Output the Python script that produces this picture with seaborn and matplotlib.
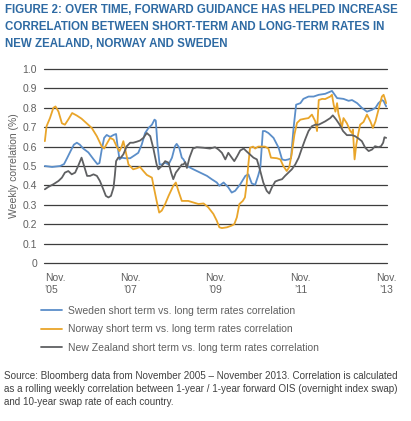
import matplotlib
matplotlib.use("Agg")
import matplotlib.pyplot as plt
from matplotlib import font_manager
import seaborn as sns
import pandas as pd

# decimal years (Nov 2005 = 2005.83) and weekly correlation
sweden_t = [2005.83, 2006.00, 2006.19, 2006.28, 2006.35, 2006.44, 2006.51, 2006.58, 2006.65, 2006.73,
            2006.85, 2006.97, 2007.06, 2007.11, 2007.16, 2007.22, 2007.28, 2007.36, 2007.44, 2007.50,
            2007.53, 2007.58, 2007.63, 2007.71, 2007.83, 2007.94, 2008.02, 2008.10, 2008.18, 2008.26,
            2008.34, 2008.40, 2008.43, 2008.47, 2008.52, 2008.57, 2008.65, 2008.73, 2008.81, 2008.88,
            2008.92, 2008.98, 2009.04, 2009.08, 2009.16, 2009.31, 2009.47, 2009.63, 2009.74, 2009.86,
            2009.92, 2010.02, 2010.13, 2010.21, 2010.29, 2010.41, 2010.53, 2010.60, 2010.68, 2010.76,
            2010.83, 2010.88, 2010.94, 2010.99, 2011.07, 2011.19, 2011.31, 2011.39, 2011.46, 2011.54,
            2011.60, 2011.66, 2011.72, 2011.82, 2011.89, 2012.01, 2012.13, 2012.25, 2012.40, 2012.56,
            2012.68, 2012.83, 2012.95, 2013.03, 2013.15, 2013.26, 2013.38, 2013.50, 2013.58, 2013.65,
            2013.73, 2013.77, 2013.83]
sweden = [0.50, 0.495, 0.50, 0.51, 0.54, 0.58, 0.61, 0.62, 0.61, 0.59,
          0.57, 0.535, 0.51, 0.515, 0.58, 0.645, 0.66, 0.65, 0.66, 0.665,
          0.61, 0.534, 0.543, 0.54, 0.54, 0.556, 0.568, 0.61, 0.67, 0.696,
          0.713, 0.739, 0.734, 0.61, 0.508, 0.508, 0.517, 0.508, 0.543, 0.602,
          0.614, 0.594, 0.543, 0.534, 0.50, 0.483, 0.466, 0.449, 0.432, 0.415,
          0.398, 0.415, 0.39, 0.363, 0.372, 0.406, 0.449, 0.457, 0.41, 0.403,
          0.45, 0.49, 0.68, 0.68, 0.67, 0.645, 0.594, 0.534, 0.53, 0.534,
          0.54, 0.696, 0.816, 0.824, 0.846, 0.858, 0.858, 0.867, 0.872, 0.887,
          0.85, 0.846, 0.836, 0.84, 0.824, 0.80, 0.78, 0.79, 0.80, 0.824,
          0.84, 0.835, 0.807]

norway_t = [2005.83, 2005.87, 2005.95, 2006.03, 2006.08, 2006.15, 2006.23, 2006.30, 2006.38, 2006.47,
            2006.58, 2006.69, 2006.81, 2006.93, 2007.05, 2007.16, 2007.22, 2007.28, 2007.36, 2007.44,
            2007.52, 2007.58, 2007.63, 2007.67, 2007.71, 2007.79, 2007.90, 2007.98, 2008.06, 2008.14,
            2008.22, 2008.34, 2008.37, 2008.45, 2008.51, 2008.57, 2008.65, 2008.73, 2008.84, 2008.90,
            2008.96, 2009.04, 2009.12, 2009.19, 2009.31, 2009.43, 2009.55, 2009.66, 2009.78, 2009.86,
            2009.92, 2009.98, 2010.10, 2010.21, 2010.27, 2010.33, 2010.39, 2010.47, 2010.52, 2010.56,
            2010.60, 2010.64, 2010.71, 2010.76, 2010.83, 2010.99, 2011.07, 2011.13, 2011.27, 2011.35,
            2011.42, 2011.50, 2011.56, 2011.62, 2011.68, 2011.74, 2011.82, 2011.93, 2012.01, 2012.09,
            2012.17, 2012.21, 2012.25, 2012.33, 2012.40, 2012.52, 2012.56, 2012.60, 2012.64, 2012.68,
            2012.71, 2012.75, 2012.79, 2012.83, 2012.91, 2012.99, 2013.03, 2013.05, 2013.09, 2013.13,
            2013.18, 2013.22, 2013.30, 2013.38, 2013.46, 2013.52, 2013.58, 2013.65, 2013.73, 2013.77,
            2013.81, 2013.83]
norway = [0.628, 0.705, 0.747, 0.80, 0.807, 0.78, 0.72, 0.713, 0.74, 0.773,
          0.76, 0.744, 0.72, 0.696, 0.653, 0.602, 0.59, 0.614, 0.645, 0.636,
          0.597, 0.577, 0.60, 0.628, 0.59, 0.508, 0.483, 0.488, 0.495, 0.474,
          0.454, 0.44, 0.406, 0.32, 0.26, 0.27, 0.304, 0.346, 0.398, 0.415,
          0.372, 0.32, 0.32, 0.32, 0.312, 0.304, 0.307, 0.287, 0.253, 0.218,
          0.184, 0.18, 0.184, 0.193, 0.20, 0.235, 0.304, 0.32, 0.338, 0.406,
          0.508, 0.594, 0.60, 0.59, 0.60, 0.60, 0.59, 0.543, 0.54, 0.534,
          0.50, 0.474, 0.495, 0.568, 0.662, 0.722, 0.739, 0.744, 0.747, 0.765,
          0.73, 0.68, 0.84, 0.846, 0.845, 0.858, 0.867, 0.816, 0.78, 0.824,
          0.77, 0.739, 0.696, 0.747, 0.72, 0.68, 0.67, 0.688, 0.534, 0.61,
          0.67, 0.713, 0.727, 0.765, 0.73, 0.696, 0.73, 0.79, 0.858, 0.867,
          0.84, 0.824]

nz_t = [2005.83, 2005.91, 2006.03, 2006.15, 2006.23, 2006.30, 2006.38, 2006.46, 2006.54, 2006.61,
        2006.69, 2006.75, 2006.82, 2006.89, 2006.97, 2007.05, 2007.12, 2007.20, 2007.26, 2007.32,
        2007.38, 2007.44, 2007.47, 2007.50, 2007.55, 2007.61, 2007.67, 2007.75, 2007.83, 2007.90,
        2007.98, 2008.06, 2008.14, 2008.22, 2008.30, 2008.37, 2008.45, 2008.49, 2008.57, 2008.65,
        2008.73, 2008.79, 2008.84, 2008.90, 2008.96, 2009.04, 2009.08, 2009.12, 2009.16, 2009.22,
        2009.30, 2009.39, 2009.55, 2009.70, 2009.82, 2009.90, 2009.98, 2010.06, 2010.13, 2010.21,
        2010.27, 2010.34, 2010.41, 2010.49, 2010.57, 2010.66, 2010.72, 2010.80, 2010.88, 2010.95,
        2011.03, 2011.09, 2011.15, 2011.23, 2011.31, 2011.39, 2011.46, 2011.54, 2011.62, 2011.70,
        2011.78, 2011.86, 2011.93, 2012.01, 2012.09, 2012.17, 2012.25, 2012.33, 2012.40, 2012.52,
        2012.58, 2012.66, 2012.74, 2012.82, 2012.91, 2013.03, 2013.10, 2013.18, 2013.26, 2013.34,
        2013.42, 2013.50, 2013.57, 2013.65, 2013.71, 2013.76, 2013.79, 2013.83]
nz = [0.38, 0.392, 0.406, 0.423, 0.44, 0.466, 0.474, 0.457, 0.466, 0.50,
      0.543, 0.50, 0.449, 0.449, 0.457, 0.449, 0.423, 0.38, 0.346, 0.338,
      0.346, 0.389, 0.45, 0.525, 0.543, 0.543, 0.56, 0.602, 0.62, 0.62,
      0.625, 0.631, 0.645, 0.67, 0.654, 0.594, 0.508, 0.483, 0.50, 0.525,
      0.517, 0.466, 0.432, 0.466, 0.483, 0.508, 0.508, 0.52, 0.49, 0.543,
      0.59, 0.597, 0.594, 0.59, 0.597, 0.585, 0.568, 0.534, 0.568, 0.543,
      0.525, 0.551, 0.58, 0.59, 0.573, 0.555, 0.543, 0.534, 0.474, 0.415,
      0.372, 0.358, 0.389, 0.42, 0.427, 0.432, 0.449, 0.466, 0.483, 0.508,
      0.543, 0.594, 0.636, 0.68, 0.705, 0.713, 0.713, 0.722, 0.73, 0.747,
      0.761, 0.739, 0.713, 0.68, 0.659, 0.659, 0.654, 0.642, 0.628, 0.594,
      0.577, 0.585, 0.602, 0.597, 0.602, 0.62, 0.648, 0.645]

labels = ["Sweden short term vs. long term rates correlation",
          "Norway short term vs. long term rates correlation",
          "New Zealand short term vs. long term rates correlation"]
colors = ["#5b8ec9", "#e9a52a", "#5f6062"]

tick_years = [2005.83, 2007.83, 2009.83, 2011.83, 2013.83]
tick_labels = ["Nov.\n\u201905", "Nov.\n\u201907", "Nov.\n\u201909", "Nov.\n\u201911", "Nov.\n\u201913"]
y_ticks = [0, 0.1, 0.2, 0.3, 0.4, 0.5, 0.6, 0.7, 0.8, 0.9, 1.0]
y_tick_labels = ["0", "0.1", "0.2", "0.3", "0.4", "0.5", "0.6", "0.7", "0.8", "0.9", "1.0"]

df = pd.concat([
    pd.DataFrame({"t": sweden_t, "corr": sweden, "series": labels[0]}),
    pd.DataFrame({"t": norway_t, "corr": norway, "series": labels[1]}),
    pd.DataFrame({"t": nz_t, "corr": nz, "series": labels[2]}),
])

sns.set_style("white")
names = {f.name for f in font_manager.fontManager.ttflist}
narrow = "Liberation Sans Narrow" if "Liberation Sans Narrow" in names else "Liberation Sans"
plt.rcParams["font.family"] = [narrow, "DejaVu Sans"]

fig = plt.figure(figsize=(4.11, 4.21), dpi=100)
ax = fig.add_axes([44 / 411, 1 - 263 / 421, 343 / 411, 194 / 421])

for yv in y_ticks:
    ax.axhline(yv, color="#3d3d3d", lw=0.9, zorder=1, clip_on=False)

sns.lineplot(data=df, x="t", y="corr", hue="series", palette=colors,
             hue_order=labels, lw=1.3, ax=ax, legend=False, zorder=3, sort=False)

ax.set_xlim(2005.81, 2013.85)
ax.set_ylim(0, 1.0)
for s in ax.spines.values():
    s.set_visible(False)

ax.set_yticks(y_ticks)
ax.set_yticklabels(y_tick_labels)
ax.set_xticks(tick_years)
ax.set_xticklabels(tick_labels, linespacing=1.3)
ax.tick_params(length=0, labelsize=7.5, labelcolor="#606060")
ax.tick_params(axis="y", pad=5)
ax.tick_params(axis="x", pad=7)
ax.get_xticklabels()[0].set_horizontalalignment("left")

ax.set_xlabel("")
ax.set_ylabel("Weekly correlation (%)", fontsize=7.5, color="#606060")
ax.yaxis.set_label_coords(-0.073, 0.5)

handles = [plt.Line2D([], [], color=c, lw=1.3) for c in colors]
fig.legend(handles, labels, loc="upper left", bbox_to_anchor=(41 / 411, 1 - 306 / 421),
           frameon=False, fontsize=7.5, labelcolor="#606060", handlelength=2.0,
           handletextpad=0.6, labelspacing=0.8, borderpad=0, borderaxespad=0)

fig.text(5 / 411, 1 - 4 / 421,
         "FIGURE 2: OVER TIME, FORWARD GUIDANCE HAS HELPED INCREASE\n"
         "CORRELATION BETWEEN SHORT-TERM AND LONG-TERM RATES IN\n"
         "NEW ZEALAND, NORWAY AND SWEDEN",
         ha="left", va="top", fontsize=8.3, fontweight="bold", color="#2e6aa3", linespacing=1.55)

fig.text(4 / 411, 1 - 371 / 421,
         "Source: Bloomberg data from November 2005 \u2013 November 2013. Correlation is calculated\n"
         "as a rolling weekly correlation between 1-year / 1-year forward OIS (overnight index swap)\n"
         "and 10-year swap rate of each country.",
         ha="left", va="top", fontsize=7.1, color="#404040", linespacing=1.35)

fig.savefig("out.png", dpi=100)
